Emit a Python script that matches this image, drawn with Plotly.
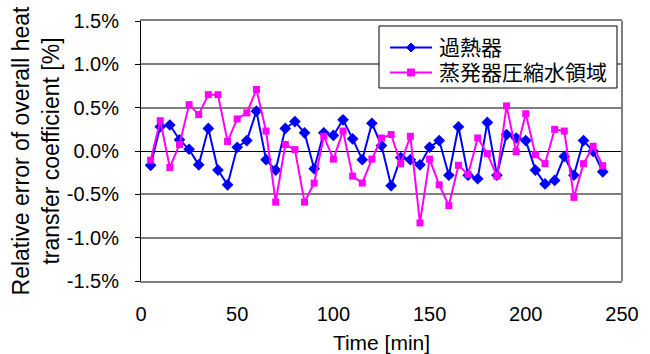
import plotly.graph_objects as go

time_min = [5, 10, 15, 20, 25, 30, 35, 40, 45, 50, 55, 60, 65, 70, 75, 80,
            85, 90, 95, 100, 105, 110, 115, 120, 125, 130, 135, 140, 145, 150, 155, 160,
            165, 170, 175, 180, 185, 190, 195, 200, 205, 210, 215, 220, 225, 230, 235, 240]

superheater = [-0.165, 0.28, 0.30, 0.13, 0.02, -0.16, 0.26, -0.22, -0.39, 0.043, 0.12, 0.46, -0.10, -0.22, 0.26, 0.34,
               0.21, -0.205, 0.21, 0.18, 0.36, 0.14, -0.10, 0.32, 0.063, -0.40, -0.075, -0.10, -0.16, 0.043, 0.12, -0.28,
               0.28, -0.28, -0.32, 0.33, -0.28, 0.19, 0.15, 0.12, -0.22, -0.38, -0.34, -0.063, -0.28, 0.12, -0.004, -0.24]

evaporator = [-0.106, 0.35, -0.19, 0.075, 0.535, 0.42, 0.65, 0.65, 0.11, 0.37, 0.44, 0.71, 0.23, -0.59, 0.075, 0.016,
              -0.59, -0.37, 0.17, -0.094, 0.23, -0.29, -0.37, -0.094, 0.15, 0.19, -0.146, 0.17, -0.83, -0.094, -0.39, -0.63,
              -0.165, -0.27, 0.15, -0.03, -0.29, 0.52, -0.008, 0.43, -0.043, -0.146, 0.25, 0.23, -0.535, -0.146, 0.055, -0.17]

series_names = ["過熱器", "蒸発器圧縮水領域"]
series_colors = ["#0000FF", "#FF00FF"]

y_ticks = [-1.5, -1.0, -0.5, 0.0, 0.5, 1.0, 1.5]
y_ticktext = [f"{v:.1f}%" for v in y_ticks]
x_ticks = [0, 50, 100, 150, 200, 250]

FONT = "Liberation Sans, Arial, Noto Sans CJK JP, sans-serif"

fig = go.Figure()
fig.add_trace(go.Scatter(
    x=time_min, y=superheater, name=series_names[0], mode="lines+markers",
    line=dict(color=series_colors[0], width=2),
    marker=dict(symbol="diamond", size=9, color=series_colors[0]),
))
fig.add_trace(go.Scatter(
    x=time_min, y=evaporator, name=series_names[1], mode="lines+markers",
    line=dict(color=series_colors[1], width=2),
    marker=dict(symbol="square", size=7, color=series_colors[1]),
))

# Hand-drawn legend (Excel-like compact rows)
leg_x0, leg_x1, leg_y0, leg_y1 = 0.4948, 0.9896, 0.7423, 0.9808
row_y = [0.8981, 0.8019]
line_x0, line_x1, mark_x, text_x = 0.5177, 0.6050, 0.5613, 0.6175

shapes = [
    dict(type="line", xref="paper", yref="paper", x0=1, x1=1, y0=0, y1=1,
         line=dict(color="#808080", width=2)),
    dict(type="rect", xref="paper", yref="paper", x0=leg_x0, x1=leg_x1, y0=leg_y0, y1=leg_y1,
         fillcolor="white", line=dict(color="black", width=1), layer="above"),
]
annotations = []
for i, (nm, col) in enumerate(zip(series_names, series_colors)):
    yy = row_y[i]
    shapes.append(dict(type="line", xref="paper", yref="paper", x0=line_x0, x1=line_x1,
                       y0=yy, y1=yy, line=dict(color=col, width=2), layer="above"))
    if i == 0:
        shapes.append(dict(type="path", xref="paper", yref="paper", xsizemode="pixel",
                           ysizemode="pixel", xanchor=mark_x, yanchor=yy,
                           path="M-4.5,0 L0,4.5 L4.5,0 L0,-4.5 Z",
                           fillcolor=col, line=dict(color=col, width=1), layer="above"))
    else:
        shapes.append(dict(type="rect", xref="paper", yref="paper", xsizemode="pixel",
                           ysizemode="pixel", xanchor=mark_x, yanchor=yy,
                           x0=-3.5, x1=3.5, y0=-3.5, y1=3.5,
                           fillcolor=col, line=dict(color=col, width=1), layer="above"))
    annotations.append(dict(xref="paper", yref="paper", x=text_x, y=yy, xanchor="left",
                            yanchor="middle", text=nm, showarrow=False,
                            valign="middle", borderpad=0,
                            font=dict(family="Liberation Sans, Noto Sans CJK JP", size=21,
                                      color="black")))

fig.update_layout(
    width=650, height=354,
    margin=dict(l=141, r=28, t=21, b=73),
    paper_bgcolor="white", plot_bgcolor="white",
    font=dict(family=FONT, size=20, color="black"),
    showlegend=False,
    xaxis=dict(
        range=[0, 250], tickvals=x_ticks, showgrid=False, zeroline=False,
        showline=True, linecolor="#808080", linewidth=2, mirror=True,
        ticks="", ticklabelstandoff=14, automargin=False,
        title=dict(text="Time [min]", font=dict(size=21), standoff=12),
    ),
    yaxis=dict(
        range=[-1.5, 1.5], tickvals=y_ticks, ticktext=y_ticktext,
        showgrid=True, gridcolor="#808080", gridwidth=2,
        zeroline=True, zerolinecolor="black", zerolinewidth=1,
        showline=True, linecolor="black", linewidth=1,
        ticks="outside", ticklen=5, tickcolor="black", ticklabelstandoff=12,
        automargin=False,
        title=dict(text="Relative error of overall heat<br>transfer coefficient [%]",
                   font=dict(size=23), standoff=0),
    ),
    shapes=shapes,
    annotations=annotations,
)

fig.write_html("out.html", config={"displayModeBar": False},
               post_script="document.body.style.margin='0';document.body.style.overflow='hidden';")
